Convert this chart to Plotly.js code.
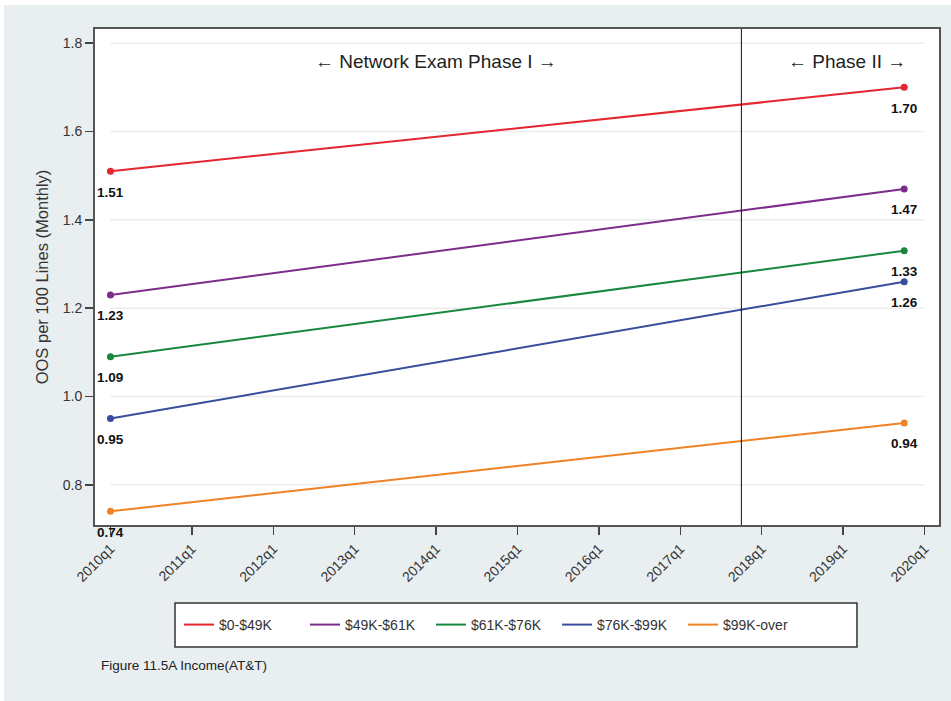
<!DOCTYPE html>
<html>
<head>
<meta charset="utf-8">
<script src="https://cdn.plot.ly/plotly-3.0.1.min.js"></script>
<style>
html,body{margin:0;padding:0;background:#ffffff;}
#chart{position:absolute;left:4px;top:5px;width:947px;height:696px;}
</style>
</head>
<body>
<div id="chart"></div>
<script>
// Data
const seriesNames = ["$0-$49K", "$49K-$61K", "$61K-$76K", "$76K-$99K", "$99K-over"];
const seriesColors = ["#e3262f", "#7d2c8c", "#17883d", "#3a4c9c", "#ef8224"];
const periodLabels = ["2010q1", "2019q4"];
const periodIndex = [0, 39];            // quarters since 2010q1
const startValues = [1.51, 1.23, 1.09, 0.95, 0.74];
const endValues   = [1.70, 1.47, 1.33, 1.26, 0.94];
const tickQuarters = [0, 4, 8, 12, 16, 20, 24, 28, 32, 36, 40];
const tickLabels = ["2010q1","2011q1","2012q1","2013q1","2014q1","2015q1","2016q1","2017q1","2018q1","2019q1","2020q1"];
const yTicks = [0.8, 1.0, 1.2, 1.4, 1.6, 1.8];
const phaseBreak = 31;                  // 2017q4
const phaseLabels = ["← Network Exam Phase I →", "← Phase II →"];
const phaseLabelX = [16, 36.2];
const caption = "Figure 11.5A Income(AT&T)";

const FONT = "Liberation Sans, Arial, sans-serif";

const traces = [];
seriesNames.forEach((name, i) => {
  traces.push({
    type: "scatter", mode: "lines+markers", name: name,
    x: periodIndex, y: [startValues[i], endValues[i]],
    line: {color: seriesColors[i], width: 2},
    marker: {color: seriesColors[i], size: 7},
    showlegend: false, legendgroup: "g" + i, hoverinfo: "skip"
  });
});
// legend-only entries (line samples without markers)
seriesNames.forEach((name, i) => {
  traces.push({
    type: "scatter", mode: "lines", name: name,
    x: [null], y: [null],
    line: {color: seriesColors[i], width: 2},
    showlegend: true, legendgroup: "g" + i, hoverinfo: "skip"
  });
});

const shapes = yTicks.map(v => ({
  type: "line", xref: "x", yref: "y",
  x0: tickQuarters[0], x1: tickQuarters[tickQuarters.length - 1], y0: v, y1: v,
  line: {color: "#ececec", width: 1.5}, layer: "below"
}));
shapes.push({
  type: "line", xref: "x", yref: "paper",
  x0: phaseBreak, x1: phaseBreak, y0: 0, y1: 1,
  line: {color: "#111", width: 1}
});
// legend frame
shapes.push({
  type: "rect", xref: "paper", yref: "paper",
  x0: 0.0948, x1: 0.9028, y0: -0.1573, y1: -0.246,
  fillcolor: "#ffffff", line: {color: "#333", width: 1.5}, layer: "below"
});

const annotations = phaseLabels.map((t, i) => ({
  text: t, x: phaseLabelX[i], y: 1.759, xref: "x", yref: "y",
  showarrow: false, font: {family: FONT, size: 19, color: "#222"},
  xanchor: "center", yanchor: "middle"
}));
seriesNames.forEach((name, i) => {
  [startValues[i], endValues[i]].forEach((v, j) => {
    annotations.push({
      text: "<b>" + v.toFixed(2) + "</b>", x: periodIndex[j], y: v,
      xref: "x", yref: "y", showarrow: false, yshift: -21,
      xanchor: "center", yanchor: "middle",
      font: {family: FONT, size: 13.5, color: "#111"}
    });
  });
});
annotations.push({
  text: caption, xref: "paper", yref: "paper", x: 0.005, y: -0.284,
  xanchor: "left", yanchor: "middle", showarrow: false,
  font: {family: FONT, size: 13.5, color: "#222"}
});

const layout = {
  width: 947, height: 696,
  paper_bgcolor: "#e9eef1",
  plot_bgcolor: "#ffffff",
  margin: {l: 91, r: 12, t: 24, b: 176},
  font: {family: FONT, color: "#333"},
  showlegend: true,
  legend: {
    orientation: "h", x: 0.0995, y: -0.2016, xanchor: "left", yanchor: "middle",
    bgcolor: "rgba(0,0,0,0)", borderwidth: 0,
    font: {family: FONT, size: 14, color: "#333"},
    entrywidth: 81, entrywidthmode: "pixels",
    itemwidth: 30, traceorder: "normal"
  },
  xaxis: {
    range: [-0.76, 40.71],
    tickmode: "array", tickvals: tickQuarters, ticktext: tickLabels,
    tickangle: -45, ticks: "outside", ticklen: 8, tickwidth: 1.5, tickcolor: "#444",
    tickfont: {family: FONT, size: 14, color: "#333"},
    showgrid: false, zeroline: false,
    showline: true, linecolor: "#555", linewidth: 2, mirror: true
  },
  yaxis: {
    range: [0.709, 1.832],
    tickmode: "array", tickvals: yTicks, ticktext: yTicks.map(v => v.toFixed(1)),
    ticks: "outside", ticklen: 8, tickwidth: 1.5, tickcolor: "#444",
    tickfont: {family: FONT, size: 14, color: "#333"},
    showgrid: false, zeroline: false,
    showline: true, linecolor: "#555", linewidth: 2, mirror: true,
    title: {text: "OOS per 100 Lines (Monthly)", font: {family: FONT, size: 16.5, color: "#333"}, standoff: 10}
  },
  shapes: shapes,
  annotations: annotations
};

Plotly.newPlot("chart", traces, layout, {displayModeBar: false, staticPlot: true});
</script>
</body>
</html>
